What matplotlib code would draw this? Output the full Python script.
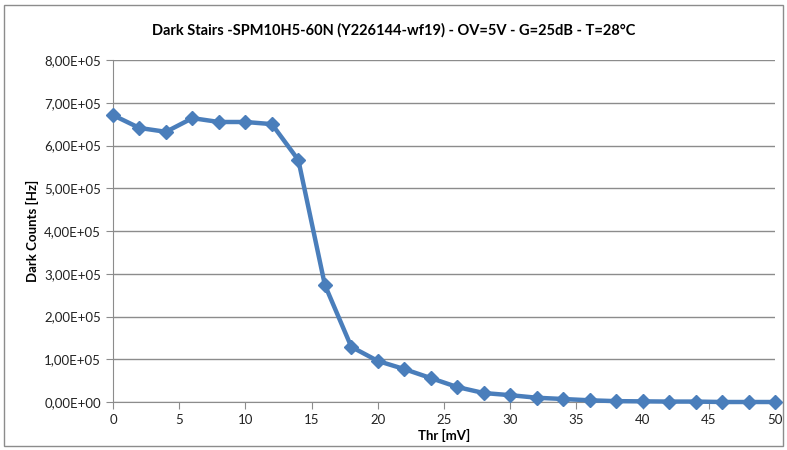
import matplotlib.pyplot as plt
from matplotlib.patches import Rectangle
from matplotlib.ticker import FuncFormatter

thr_mv = [0, 2, 4, 6, 8, 10, 12, 14, 16, 18, 20, 22, 24, 26, 28, 30, 32, 34, 36, 38, 40, 42, 44, 46, 48, 50]
dark_counts = [6.71e5, 6.41e5, 6.32e5, 6.64e5, 6.55e5, 6.55e5, 6.50e5, 5.66e5, 2.74e5, 1.29e5,
               0.96e5, 0.77e5, 0.56e5, 0.35e5, 0.21e5, 0.16e5, 0.10e5, 0.07e5, 0.04e5, 0.02e5,
               0.015e5, 0.01e5, 0.01e5, 0.0, 0.0, 0.0]

title = "Dark Stairs -SPM10H5-60N (Y226144-wf19) - OV=5V - G=25dB - T=28°C"

plt.rcParams['font.family'] = ['Lato', 'DejaVu Sans']


def sci_comma(v, pos):
    mant, exp = ("%.2E" % v).split("E")
    return mant.replace(".", ",") + "E" + exp


fig = plt.figure(figsize=(7.87, 4.5), dpi=100)
ax = fig.add_axes([113 / 787, 1 - 402 / 450, (775 - 113) / 787, (402 - 60) / 450])

# outer chart frame
fig.patches.append(Rectangle((4 / 787, 4 / 450), 779 / 787, 441 / 450, transform=fig.transFigure,
                             fill=False, edgecolor='#8c8c8c', linewidth=1))

ax.plot(thr_mv, dark_counts, color='#4a7ebb', linewidth=3.2, marker='D', markersize=7,
        markeredgecolor='#4a7ebb', zorder=3, clip_on=False)

ax.set_xlim(0, 50)
ax.set_ylim(0, 8e5)
ax.set_xticks(range(0, 51, 5))
ax.set_yticks([i * 1e5 for i in range(9)])
ax.yaxis.set_major_formatter(FuncFormatter(sci_comma))
ax.grid(axis='y', color='#8c8c8c', linewidth=1)
ax.set_axisbelow(True)

for side in ['top', 'right']:
    ax.spines[side].set_visible(False)
for side in ['left', 'bottom']:
    ax.spines[side].set_color('#8c8c8c')
ax.tick_params(colors='#8c8c8c', labelcolor='#222222', labelsize=9.5, length=5, direction='out')

ax.set_xlabel('Thr [mV]', fontsize=9.5, fontweight='bold', labelpad=2)
ax.set_ylabel('Dark Counts [Hz]', fontsize=9.5, fontweight='bold', labelpad=4)
fig.text(0.5, 1 - 30 / 450, title, ha='center', va='center', fontsize=10.5, fontweight='bold')

fig.savefig('out.png', dpi=100)
